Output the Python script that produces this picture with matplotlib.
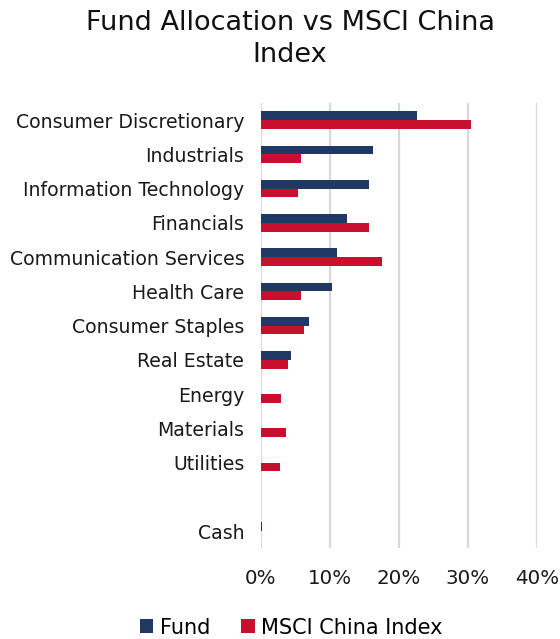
import matplotlib
matplotlib.use("Agg")
import matplotlib.pyplot as plt
import numpy as np

# Sector weights (%), top to bottom; "" is the empty spacer row before Cash
categories = [
    "Consumer Discretionary", "Industrials", "Information Technology",
    "Financials", "Communication Services", "Health Care",
    "Consumer Staples", "Real Estate", "Energy", "Materials",
    "Utilities", "", "Cash",
]
fund = [22.6, 16.3, 15.6, 12.4, 11.0, 10.3, 7.0, 4.35, 0.0, 0.0, 0.0, 0.0, 0.2]
msci = [30.5, 5.8, 5.3, 15.6, 17.5, 5.75, 6.3, 3.9, 2.9, 3.7, 2.7, 0.0, 0.0]
xticks = [0, 10, 20, 30, 40]

NAVY = "#203864"
RED = "#C8102E"
GRID = "#D9D9D9"

plt.rcParams["font.family"] = ["DejaVu Sans"]

fig = plt.figure(figsize=(5.6, 6.39), dpi=100)
ax = fig.add_axes([0.466, 0.142, 0.493, 0.697])

y = np.arange(len(categories))
h = 0.255
ax.barh(y - h / 2, fund, height=h, color=NAVY, label="Fund", zorder=3)
ax.barh(y + h / 2, msci, height=h, color=RED, label="MSCI China Index", zorder=3)

ax.set_ylim(len(categories) - 0.5, -0.5)
ax.set_xlim(0, 40)
ax.set_yticks(y)
ax.set_yticklabels(categories, fontsize=13.6, color="#1a1a1a")
ax.set_xticks(xticks)
ax.set_xticklabels([f"{t}%" for t in xticks], fontsize=14.3, color="#1a1a1a")
ax.tick_params(length=0)
ax.tick_params(axis="y", pad=12)
ax.tick_params(axis="x", pad=15)

for s in ax.spines.values():
    s.set_visible(False)
ax.grid(axis="x", color=GRID, lw=1.6, zorder=0)
ax.set_axisbelow(True)

fig.text(0.518, 0.984, "Fund Allocation vs MSCI China\nIndex", ha="center",
         va="top", fontsize=19.5, linespacing=1.3, color="#111111")

fig.legend(loc="lower center", bbox_to_anchor=(0.52, -0.027), ncol=2,
           frameon=False, fontsize=15, handlelength=0.65, handleheight=0.65,
           handletextpad=0.3, columnspacing=1.5)

fig.savefig("out.png", dpi=100)
